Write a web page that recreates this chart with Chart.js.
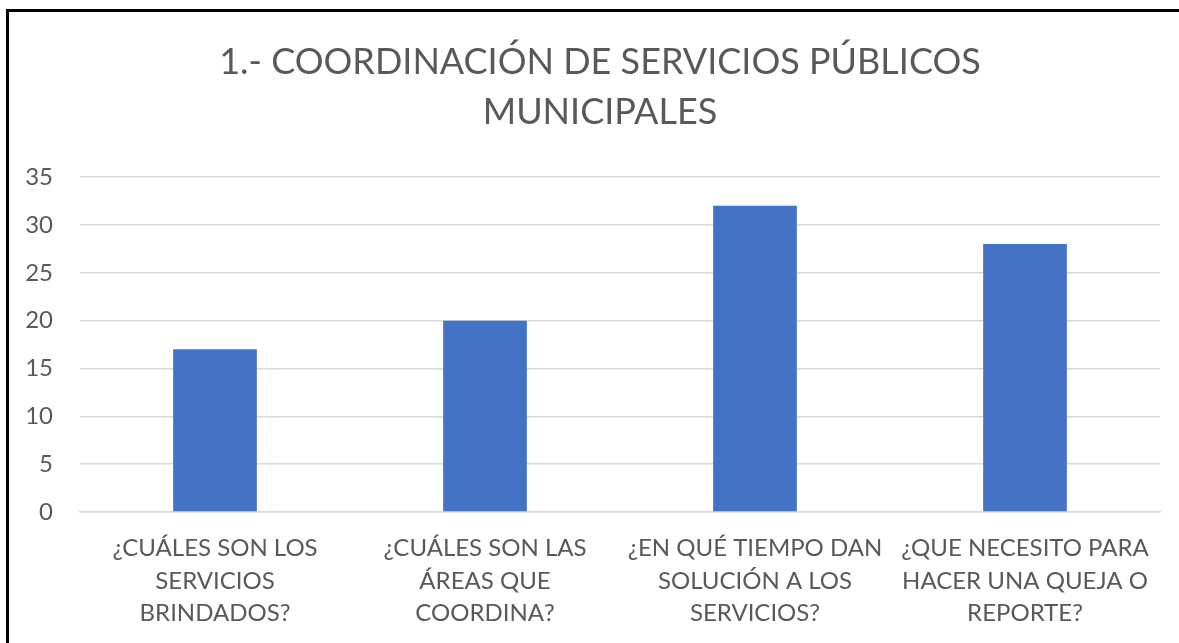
<!DOCTYPE html>
<html>
<head>
<meta charset="utf-8">
<script src="https://cdn.jsdelivr.net/npm/chart.js@4"></script>
<style>
  html, body { margin: 0; padding: 0; background: #fff; overflow: hidden; }
  #frame {
    position: absolute; left: 6px; top: 9px;
    width: 1173px; height: 634px;
    border-top: 3px solid #000; border-left: 3px solid #000;
  }
</style>
</head>
<body>
<div id="frame"><canvas id="chart" width="1170" height="631"></canvas></div>
<script>
  const titleLines = ['1.- COORDINACIÓN DE SERVICIOS PÚBLICOS', 'MUNICIPALES'];
  const categories = [
    ['¿CUÁLES SON LOS', 'SERVICIOS', 'BRINDADOS?'],
    ['¿CUÁLES SON LAS', 'ÁREAS QUE', 'COORDINA?'],
    ['¿EN QUÉ TIEMPO DAN', 'SOLUCIÓN A LOS', 'SERVICIOS?'],
    ['¿QUE NECESITO PARA', 'HACER UNA QUEJA O', 'REPORTE?']
  ];
  const values = [17, 20, 32, 28];
  const yTicks = [0, 5, 10, 15, 20, 25, 30, 35];

  const grey = '#595959';
  const fontFamily = 'Lato, "Open Sans", sans-serif';

  new Chart(document.getElementById('chart'), {
    type: 'bar',
    data: {
      labels: categories,
      datasets: [{
        data: values,
        backgroundColor: '#4472C4',
        barPercentage: 0.62,
        categoryPercentage: 0.5
      }]
    },
    options: {
      responsive: false,
      animation: false,
      layout: { padding: { left: 12, bottom: 1 } },
      plugins: {
        legend: { display: false },
        tooltip: { enabled: false },
        title: {
          display: true,
          text: titleLines,
          color: grey,
          font: { family: fontFamily, size: 36, weight: 'normal', lineHeight: 1.39 },
          padding: { top: 25, bottom: 40 }
        }
      },
      scales: {
        x: {
          grid: { display: false },
          border: { color: '#d9d9d9', width: 1.5 },
          ticks: {
            color: grey,
            maxRotation: 0,
            padding: 12,
            font: { family: fontFamily, size: 24, lineHeight: 1.36 }
          }
        },
        y: {
          min: 0,
          max: 35,
          afterBuildTicks(scale) {
            scale.ticks = yTicks.map(v => ({ value: v }));
          },
          afterFit(scale) {
            scale.width = 59;
          },
          border: { display: false },
          grid: { color: '#d9d9d9', lineWidth: 1.5, drawTicks: false },
          ticks: {
            color: grey,
            padding: 27,
            font: { family: fontFamily, size: 24 }
          }
        },
        // empty right-hand strip so the plot stops short of the edge
        spacer: {
          position: 'right',
          min: 0,
          max: 35,
          afterFit(scale) {
            scale.width = 19;
          },
          border: { display: false },
          grid: { drawOnChartArea: false, drawTicks: false },
          ticks: { display: false }
        }
      }
    }
  });
</script>
</body>
</html>
